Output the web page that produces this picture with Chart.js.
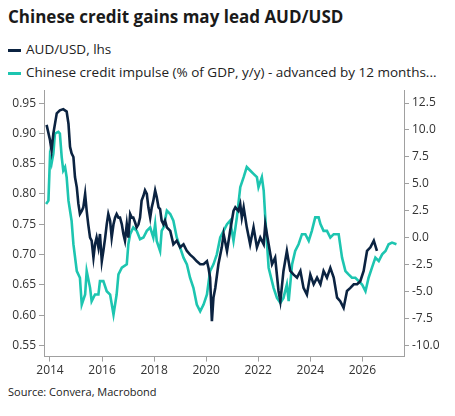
<!DOCTYPE html>
<html><head><meta charset="utf-8">
<script src="https://cdn.jsdelivr.net/npm/chart.js@4"></script>
<style>
body{margin:0;width:455px;height:416px;background:#fff;font-family:"Open Sans",sans-serif;overflow:hidden;position:relative}
#t{position:absolute;left:8px;top:5px;font-size:17px;font-weight:bold;color:#1a1a1a;white-space:nowrap}
.lg{position:absolute;left:8px;font-size:13.5px;color:#222;white-space:nowrap}
.lg span{display:inline-block;width:13px;height:3px;margin-right:5px;vertical-align:middle}
#src{position:absolute;left:8px;top:384px;font-size:11px;color:#222}
canvas{position:absolute;left:0;top:0}
</style></head><body>
<div id="t">Chinese credit gains may lead AUD/USD</div>
<div class="lg" style="top:40px"><span style="background:#0b2341"></span>AUD/USD, lhs</div>
<div class="lg" style="top:63px"><span style="background:#1dc5b0"></span>Chinese credit impulse (% of GDP, y/y) - advanced by 12 months...</div>
<div id="src">Source: Convera, Macrobond</div>
<canvas id="c" width="455" height="416"></canvas>
<script>
const audYears=[2013.87,2014.0,2014.06,2014.13,2014.26,2014.38,2014.51,2014.64,2014.71,2014.77,2014.83,2014.90,2014.96,2015.03,2015.09,2015.15,2015.22,2015.28,2015.35,2015.41,2015.47,2015.54,2015.60,2015.67,2015.73,2015.79,2015.86,2015.92,2015.99,2016.05,2016.12,2016.18,2016.24,2016.31,2016.37,2016.44,2016.50,2016.56,2016.63,2016.69,2016.76,2016.82,2016.88,2016.95,2017.01,2017.08,2017.14,2017.20,2017.27,2017.33,2017.40,2017.46,2017.52,2017.59,2017.65,2017.72,2017.78,2017.85,2017.91,2017.97,2018.04,2018.10,2018.17,2018.23,2018.29,2018.36,2018.42,2018.49,2018.62,2018.74,2018.87,2019.0,2019.13,2019.26,2019.38,2019.51,2019.64,2019.77,2019.90,2020.03,2020.09,2020.15,2020.22,2020.28,2020.35,2020.47,2020.60,2020.67,2020.80,2020.92,2021.05,2021.12,2021.24,2021.31,2021.37,2021.44,2021.56,2021.69,2021.82,2021.95,2022.08,2022.21,2022.27,2022.40,2022.53,2022.65,2022.78,2022.85,2022.97,2023.10,2023.23,2023.36,2023.49,2023.62,2023.74,2023.87,2024.0,2024.13,2024.26,2024.39,2024.51,2024.64,2024.77,2024.90,2025.03,2025.15,2025.28,2025.41,2025.54,2025.67,2025.80,2025.92,2026.05,2026.18,2026.31,2026.44,2026.56];
const audValues=[0.914,0.889,0.872,0.900,0.933,0.938,0.940,0.936,0.916,0.878,0.867,0.861,0.828,0.811,0.784,0.767,0.772,0.778,0.800,0.772,0.750,0.728,0.723,0.695,0.717,0.728,0.712,0.734,0.689,0.706,0.728,0.750,0.767,0.756,0.728,0.750,0.761,0.767,0.761,0.761,0.750,0.734,0.723,0.750,0.728,0.767,0.761,0.761,0.753,0.745,0.750,0.761,0.789,0.797,0.806,0.800,0.778,0.761,0.778,0.789,0.806,0.795,0.778,0.775,0.756,0.750,0.756,0.745,0.739,0.717,0.723,0.712,0.717,0.706,0.700,0.695,0.689,0.684,0.684,0.689,0.678,0.662,0.590,0.629,0.645,0.684,0.712,0.734,0.706,0.739,0.772,0.778,0.772,0.783,0.761,0.778,0.745,0.717,0.745,0.712,0.728,0.717,0.750,0.717,0.684,0.695,0.640,0.623,0.673,0.706,0.673,0.667,0.662,0.673,0.645,0.634,0.667,0.651,0.662,0.651,0.673,0.662,0.678,0.662,0.629,0.623,0.612,0.640,0.645,0.651,0.651,0.656,0.673,0.706,0.712,0.723,0.706];
const creditYears=[2013.85,2013.94,2014.0,2014.06,2014.13,2014.19,2014.32,2014.38,2014.45,2014.51,2014.58,2014.64,2014.71,2014.83,2014.90,2015.03,2015.15,2015.22,2015.35,2015.41,2015.54,2015.60,2015.73,2015.86,2015.92,2016.05,2016.18,2016.31,2016.44,2016.56,2016.63,2016.76,2016.95,2017.01,2017.08,2017.20,2017.33,2017.46,2017.59,2017.72,2017.85,2017.97,2018.04,2018.10,2018.23,2018.29,2018.36,2018.49,2018.62,2018.74,2018.87,2019.0,2019.13,2019.26,2019.38,2019.51,2019.64,2019.77,2019.90,2020.03,2020.15,2020.28,2020.41,2020.54,2020.67,2020.80,2020.92,2021.05,2021.18,2021.31,2021.44,2021.56,2021.69,2021.82,2021.95,2022.01,2022.14,2022.21,2022.27,2022.40,2022.59,2022.72,2022.85,2022.97,2023.10,2023.17,2023.30,2023.42,2023.55,2023.68,2023.81,2023.94,2024.06,2024.19,2024.32,2024.39,2024.51,2024.64,2024.77,2024.90,2025.09,2025.22,2025.35,2025.47,2025.60,2025.73,2025.86,2025.99,2026.12,2026.24,2026.37,2026.50,2026.63,2026.76,2026.89,2027.01,2027.14,2027.31];
const creditValues=[3.13,3.44,7.49,6.87,7.80,9.67,9.82,9.67,7.49,6.24,6.56,5.62,3.44,1.58,-0.60,-3.09,-3.71,-6.2,-5.27,-3.09,-4.65,-5.89,-5.27,-5.27,-4.03,-4.03,-4.96,-5.27,-7.14,-5.27,-3.40,-2.78,-2.47,-0.60,0.33,0.95,0.64,-0.14,0.02,0.64,0.95,0.02,1.26,-0.29,-1.23,0.64,0.95,2.51,2.20,1.58,0.02,-0.91,-1.85,-2.47,-3.71,-4.65,-6.2,-6.83,-6.2,-5.27,-3.09,-2.47,-1.54,0.02,0.64,1.26,1.58,-0.29,1.89,4.69,5.62,6.56,6.24,5.93,5.62,4.69,5.62,4.38,1.89,-2.78,-4.65,-5.58,-6.05,-5.58,-4.34,-5.89,-2.47,-1.23,-0.60,0.33,0.33,-0.29,0.64,1.89,1.89,1.26,0.64,0.64,0.02,0.33,0.33,-1.85,-3.09,-3.40,-3.71,-3.71,-4.03,-4.34,-4.96,-3.71,-2.78,-1.85,-2.16,-1.54,-1.23,-0.60,-0.45,-0.60];
const xTicks=[2014,2016,2018,2020,2022,2024,2026];
const leftTicks=[0.55,0.60,0.65,0.70,0.75,0.80,0.85,0.90,0.95];
const rightTicks=[-10,-7.5,-5,-2.5,0,2.5,5,7.5,10,12.5];

const axCol='#a0a0a0', txt='#333';
const tf={family:'"Open Sans",sans-serif',size:12};
new Chart(document.getElementById('c'),{
 type:'line',
 data:{datasets:[
  {data:audYears.map((x,i)=>({x,y:audValues[i]})),yAxisID:'yL',borderColor:'#0b2341',borderWidth:2.6,pointRadius:0,tension:0,order:0},
  {data:creditYears.map((x,i)=>({x,y:creditValues[i]})),yAxisID:'yR',borderColor:'#1dc5b0',borderWidth:2.6,pointRadius:0,tension:0,order:1}
 ]},
 options:{responsive:false,animation:false,
  layout:{padding:{top:90,bottom:36,left:0,right:0}},
  plugins:{legend:{display:false},tooltip:{enabled:false}},
  scales:{
   x:{type:'linear',min:2013.77,max:2027.6,
     afterBuildTicks:a=>{a.ticks=xTicks.map(v=>({value:v}))},
     grid:{drawOnChartArea:false,color:axCol,tickLength:5},border:{color:axCol},
     ticks:{color:txt,font:tf,maxRotation:0,autoSkip:false,padding:2,callback:v=>String(v)}},
   yL:{position:'left',min:0.5317,max:0.9716,
     afterBuildTicks:a=>{a.ticks=leftTicks.map(v=>({value:v}))},
     afterFit:a=>{a.width=44},
     grid:{drawOnChartArea:false,color:axCol,tickLength:5},border:{color:axCol},
     ticks:{color:txt,font:tf,padding:3,callback:v=>v.toFixed(2)}},
   yR:{position:'right',min:-11.03,max:13.71,
     afterBuildTicks:a=>{a.ticks=rightTicks.map(v=>({value:v}))},
     afterFit:a=>{a.width=51},
     grid:{drawOnChartArea:false,color:axCol,tickLength:5},border:{color:axCol},
     ticks:{color:txt,font:tf,padding:3,callback:v=>v.toFixed(1)}}
  }}
});
</script></body></html>
